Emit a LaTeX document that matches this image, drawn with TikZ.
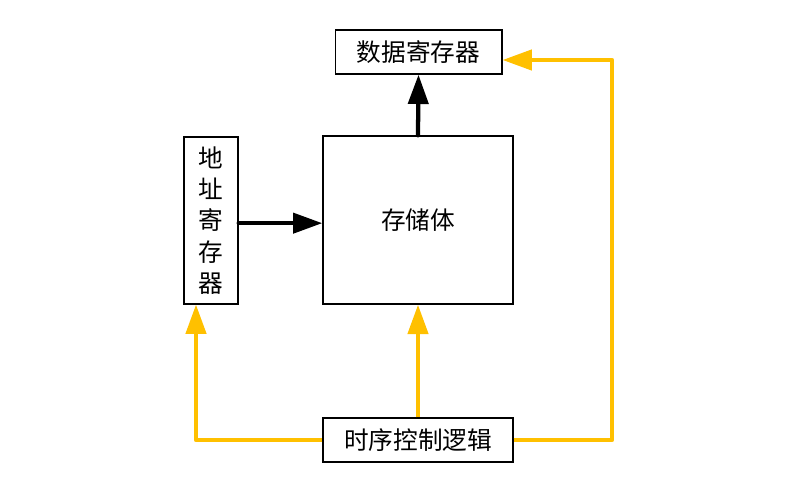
\documentclass[tikz,border=0pt]{standalone}
\usepackage{fontspec}
\newfontfamily\cjk{Noto Sans CJK SC}
\usetikzlibrary{arrows.meta}
\definecolor{ctrlgold}{HTML}{FFC000}
\tikzset{
  box/.style={draw=black, line width=1pt, fill=white, inner sep=0pt,
    font=\cjk\fontsize{18.5}{23.5}\selectfont, align=center},
  dataflow/.style={line width=3.2pt, line cap=round, draw=black,
    -{Triangle[length=22pt,width=15pt]}},
  ctrlflow/.style={line width=3.2pt, draw=ctrlgold, line join=round,
    -{Triangle[length=22pt,width=15pt,fill=ctrlgold]}},
}
\begin{document}
\begin{tikzpicture}[x=0.75pt,y=-0.75pt]
  \useasboundingbox (0,0) rectangle (800,499);
  % blocks
  \node[box, minimum width=125pt, minimum height=33pt] (data) at (418.5,52) {数据寄存器};
  \node[box, minimum width=142.5pt, minimum height=126pt] (store) at (418,220) {存储体};
  \node[box, minimum width=40.5pt, minimum height=125pt] (addr) at (211,220.5) {地\\址\\寄\\存\\器};
  \node[box, minimum width=142.5pt, minimum height=33pt] (ctrl) at (418,440) {时序控制逻辑};
  % corner and entry points of the control lines
  \coordinate (turn) at (612,440);
  \coordinate (addrin) at ([xshift=-11.25pt]addr.south);
  \coordinate (datain) at ([yshift=-6pt]data.east);
  \coordinate (addrout) at ([yshift=-2pt]addr.east);
  % data paths
  \draw[dataflow] (addrout) -- (addrout -| store.west);
  \draw[dataflow] (store.north) -- (data.south);
  % timing control lines
  \draw[ctrlflow] (ctrl.west) -| (addrin);
  \draw[ctrlflow] (ctrl.north) -- (store.south);
  \draw[ctrlflow] (ctrl.east) -- (turn) |- (datain);
\end{tikzpicture}
\end{document}
